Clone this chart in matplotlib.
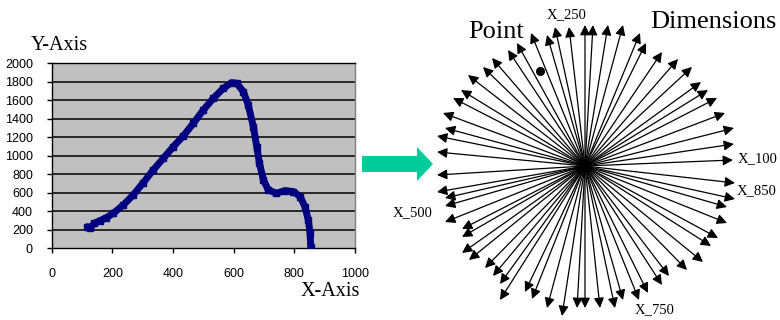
import numpy as np
import matplotlib
matplotlib.use("Agg")
import matplotlib.pyplot as plt
from matplotlib.patches import FancyArrow

# --- Datos de la curva (izquierda) ---
curva_x = [118, 126, 140, 160, 180, 203, 236, 269, 302, 335, 368, 401, 434, 467,
           500, 533, 566, 593, 610, 632, 648, 665, 676, 685, 698, 714, 741, 769,
           797, 819, 835, 846, 852, 854]
curva_y = [234, 215, 270, 300, 330, 378, 468, 577, 710, 847, 973, 1099, 1214, 1351,
           1495, 1622, 1730, 1791, 1784, 1694, 1550, 1315, 1099, 919, 739, 631, 595, 623,
           613, 559, 450, 306, 162, 18]
ticks_x = [0, 200, 400, 600, 800, 1000]
ticks_y = [0, 200, 400, 600, 800, 1000, 1200, 1400, 1600, 1800, 2000]

# --- Vectores de dimensiones (derecha), dx a la derecha, dy hacia arriba ---
dim_dx = [148, 149, 149, 140, 132, 123, 116, 107, 93, 77, 61, 55, 38, 23, 8, 0,
          -16, -30, -38, -54, -68, -77, -93, -102, -117, -124, -132, -142, -140, -148, -148,
          -148, -148, -140, -140, -140, -123, -123, -123, -116, -100, -92, -85, -85, -60, -53,
          -38, -23, -8, 0,
          15, 30, 38, 54, 63, 77, 84, 102, 118, 126, 133, 142, 142, 150, 150]
dim_dy = [6, 22, 38, 53, 68, 76, 84, 99, 107, 114, 123, 133, 141, 141, 141, 141,
          139, 139, 131, 133, 123, 116, 108, 99, 91, 76, 68, 53, 38, 30, 14,
          -9, -26, -32, -40, -56, -63, -71, -87, -94, -102, -110, -118, -134, -126, -133,
          -142, -150, -142, -142,
          -142, -142, -134, -134, -127, -119, -110, -104, -96, -80, -72, -57, -41, -33, -17]
etiquetas = ["X_100", "X_850", "X_750", "X_500", "X_250"]
etq_pos = [(738, 159), (737, 191), (635, 310), (393, 213), (547, 15)]
punto = (540, 71)

serif = "Liberation Serif"
sans = "Liberation Sans"
plt.rcParams["font.family"] = sans

fig = plt.figure(figsize=(7.8, 3.2), dpi=100)

# Capa de dibujo en pixeles
ov = fig.add_axes([0, 0, 1, 1])
ov.set_xlim(0, 780)
ov.set_ylim(320, 0)
ov.axis("off")

# --- Grafico de la izquierda ---
ax = fig.add_axes([51.7 / 780, (320 - 248.3) / 320, 303.3 / 780, 185 / 320])
ax.set_facecolor("#C0C0C0")
ax.set_xlim(0, 1000)
ax.set_ylim(0, 2000)
ax.set_xticks(ticks_x)
ax.set_yticks(ticks_y)
for yv in ticks_y[1:]:
    ax.axhline(yv, color="black", lw=1.1, zorder=1)
ax.plot(curva_x, curva_y, color="#000080", lw=5, solid_capstyle="round",
        solid_joinstyle="round", marker="s", ms=5, zorder=3)
ax.tick_params(axis="both", direction="out", length=3.5, width=1, labelsize=9)
ax.tick_params(axis="y", pad=10)
ax.tick_params(axis="x", pad=11)
ax.spines["right"].set_color("#808080")
ax.spines["top"].set_color("black")
for s in ax.spines.values():
    s.set_linewidth(1)

ov.text(59, 45, "Y-Axis", family=serif, fontsize=14.5, ha="center", va="center")
ov.text(330, 292, "X-Axis", family=serif, fontsize=14.5, ha="center", va="center")

# --- Flecha verde ---
ov.add_patch(FancyArrow(362, 164, 71, 0, width=16, head_width=34, head_length=16,
                        length_includes_head=True, color="#00CC99", lw=0))

# --- Estrella de dimensiones ---
cx, cy = 585, 166
for dx, dy in zip(dim_dx, dim_dy):
    ov.annotate("", xy=(cx + dx, cy - dy), xytext=(cx, cy),
                arrowprops=dict(arrowstyle="-|>", color="black", lw=0.9,
                                mutation_scale=15, shrinkA=0, shrinkB=0))
for txt, (px, py) in zip(etiquetas, etq_pos):
    ov.text(px, py, txt, family=serif, fontsize=10.5, ha="left", va="center")
ov.plot(*punto, "o", color="black", ms=5.5)
ov.text(468, 32, "Point", family=serif, fontsize=19, ha="left", va="center")
ov.text(650, 22, "Dimensions", family=serif, fontsize=19, ha="left", va="center")

fig.savefig("out.png", dpi=100)
